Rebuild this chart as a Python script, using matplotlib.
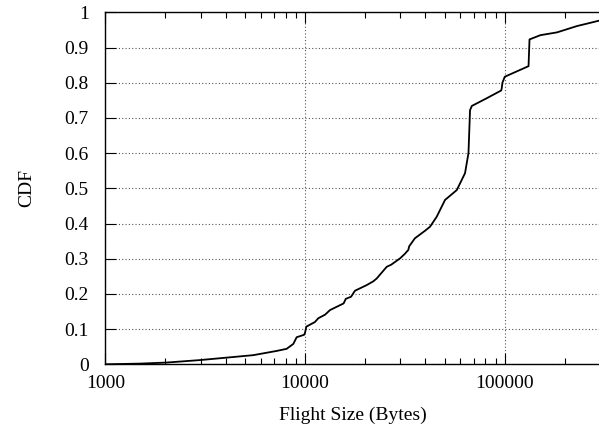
import matplotlib.pyplot as plt
from matplotlib.ticker import LogLocator, FixedLocator, NullFormatter

plt.rcParams['font.family'] = ['Liberation Serif', 'DejaVu Serif']

# flight size (bytes) and cumulative fraction
flight_size = [1000, 1500, 2028, 2977, 4055, 5508, 7210, 8090, 8738, 9080, 9440,
               9900, 10000, 10150, 11200, 11660, 12600, 13330, 15600, 16000,
               17000, 17780, 20350, 22000, 22860, 25640, 27000,
               29900, 31500, 32900, 33200, 35480, 40000, 42260, 45600, 50230,
               57500, 63240, 65800, 67000, 68400, 81300, 96000, 96600, 97300,
               100000, 131500, 133000, 150700, 182600, 230000, 263000, 300000]
cdf = [0.0, 0.002, 0.005, 0.012, 0.019, 0.026, 0.038, 0.044, 0.058, 0.077, 0.080,
       0.084, 0.090, 0.107, 0.120, 0.131, 0.141, 0.154, 0.173, 0.186,
       0.192, 0.209, 0.225, 0.236, 0.244, 0.277, 0.283,
       0.301, 0.313, 0.325, 0.335, 0.358, 0.380, 0.391, 0.419, 0.467,
       0.495, 0.543, 0.600, 0.722, 0.734, 0.756, 0.778, 0.785, 0.800,
       0.817, 0.847, 0.923, 0.935, 0.943, 0.961, 0.969, 0.977]

y_ticks = [0, 0.1, 0.2, 0.3, 0.4, 0.5, 0.6, 0.7, 0.8, 0.9, 1]
y_labels = ['0', '0.1', '0.2', '0.3', '0.4', '0.5', '0.6', '0.7', '0.8', '0.9', '1']
x_ticks = [1000, 10000, 100000]
x_labels = ['1000', '10000', '100000']

fig = plt.figure(figsize=(5.99, 4.32), dpi=100)
ax = fig.add_axes([0.1758, 0.1567, 0.826, 0.8148])

ax.plot(flight_size, cdf, color='black', linewidth=1.3)

ax.set_xscale('log')
ax.set_xlim(1000, 300000)
ax.set_ylim(0, 1)

ax.xaxis.set_major_locator(FixedLocator(x_ticks))
ax.set_xticklabels(x_labels)
ax.xaxis.set_minor_locator(LogLocator(base=10, subs=range(2, 10)))
ax.xaxis.set_minor_formatter(NullFormatter())
ax.set_yticks(y_ticks)
ax.set_yticklabels(y_labels)

ax.tick_params(which='both', direction='in', top=True, right=False,
               labelsize=14, width=0.8)
ax.tick_params(axis='y', pad=12)
ax.tick_params(axis='x', pad=8)
ax.tick_params(which='major', length=8)
ax.tick_params(which='minor', length=4)

ax.grid(True, which='major', linestyle=(0, (1, 2)), color='#555555', linewidth=0.8)
ax.spines['right'].set_visible(False)
for s in ['left', 'top', 'bottom']:
    ax.spines[s].set_linewidth(1.0)

ax.set_xlabel('Flight Size (Bytes)', fontsize=14, labelpad=10)
ax.set_ylabel('CDF', fontsize=14, labelpad=21)

fig.savefig('out.png', dpi=100)
